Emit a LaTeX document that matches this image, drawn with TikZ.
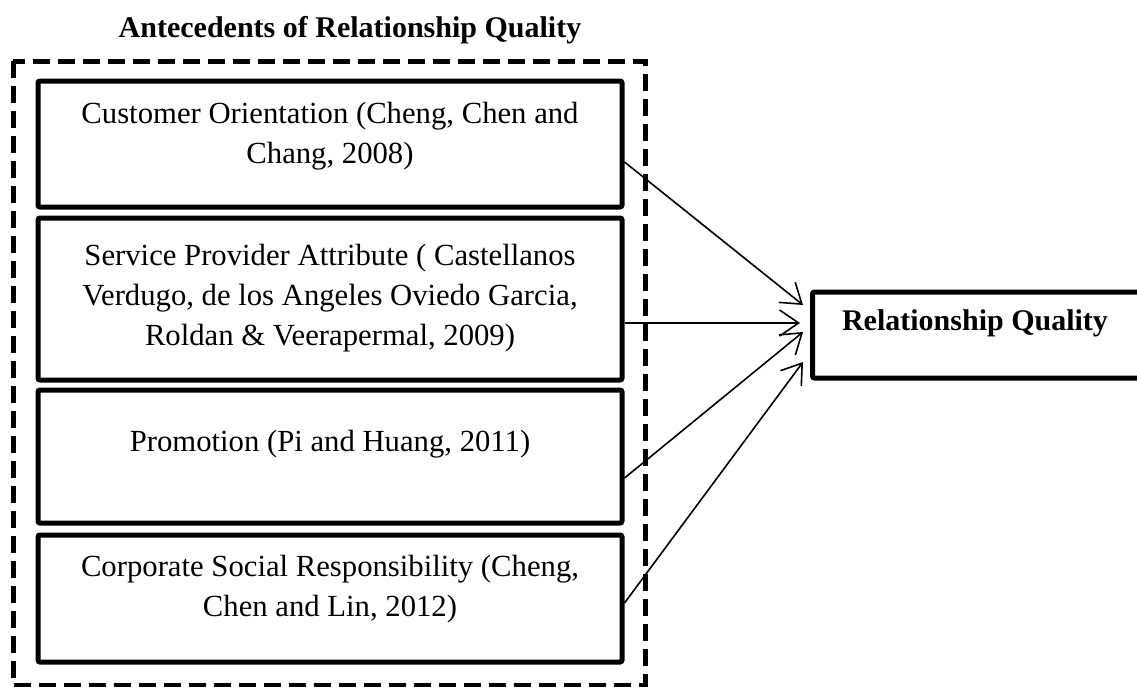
\documentclass[tikz,border=0pt]{standalone}
\usepackage{fontspec}
\setmainfont{Liberation Serif}
\usetikzlibrary{arrows.meta}
\begin{document}
\begin{tikzpicture}[x=1pt,y=-1pt,
  boxstyle/.style={draw, line width=5pt, rounded corners=2pt, minimum width=584pt, inner sep=0pt},
  txt/.style={align=center, font=\fontsize{30.7}{40}\selectfont, inner sep=0pt},
  headfont/.style={font=\bfseries\fontsize{30}{34}\selectfont, inner sep=0pt},
  arr/.style={line width=1.6pt, -{Straight Barb[length=19pt,width=26pt,line width=1.6pt]}}]
\useasboundingbox (0,0) rectangle (1137,686);
\node[headfont] (title) at (350,30) {Antecedents of Relationship Quality};
\draw[line width=5pt, dash pattern=on 17pt off 8pt] (13,61) rectangle (645,685);
\node[boxstyle, minimum height=126pt] (b1) at (330,144) {};
\node[boxstyle, minimum height=162pt] (b2) at (330,299) {};
\node[boxstyle, minimum height=133pt] (b3) at (330,456.5) {};
\node[boxstyle, minimum height=127pt] (b4) at (330,598.5) {};
\node[txt] (t1) at (330,136) {Customer Orientation (Cheng, Chen and\\Chang, 2008)};
\node[txt] (t2) at (330,298) {Service Provider Attribute ( Castellanos\\Verdugo, de los Angeles Oviedo Garcia,\\Roldan \& Veerapermal, 2009)};
\node[txt] (t3) at (330,444) {Promotion (Pi and Huang, 2011)};
\node[txt] (t4) at (330,589) {Corporate Social Responsibility (Cheng,\\Chen and Lin, 2012)};
\node[draw, line width=5pt, rounded corners=2pt, minimum width=340pt, minimum height=86pt, anchor=west, inner sep=0pt] (rq) at (810,335) {};
\node[headfont] (rqt) at (975,323) {Relationship Quality};
\draw[arr] ([yshift=-18pt]b1.east) -- ([xshift=-7pt,yshift=30pt]rq.west);
\draw[arr] ([yshift=-24pt]b2.east) -- ([xshift=-10pt,yshift=12pt]rq.west);
\draw[arr] ([yshift=-21.5pt]b3.east) -- ([xshift=-7pt,yshift=3pt]rq.west);
\draw[arr] ([yshift=-4.5pt]b4.east) -- ([xshift=-7pt,yshift=-27pt]rq.west);
\end{tikzpicture}
\end{document}
